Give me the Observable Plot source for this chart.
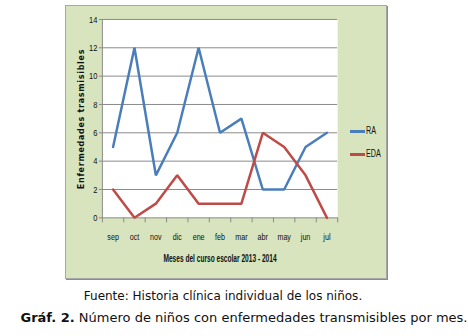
<!DOCTYPE html>
<html><head><meta charset="utf-8">
<script src="https://cdn.jsdelivr.net/npm/d3@7"></script>
<script src="https://cdn.jsdelivr.net/npm/@observablehq/plot@0.6"></script>
<style>
body{margin:0;background:#fff;width:468px;height:336px;position:relative;overflow:hidden;font-family:"DejaVu Sans",Verdana,sans-serif;}
#panel{position:absolute;left:65px;top:5px;width:320px;height:272px;background:#d7e4bd;border:1px solid #a6a6a6;box-shadow:1px 1px 0 #8c8c8c;}
#chart{position:absolute;left:-1px;top:-1px;}
.leg{position:absolute;font-family:"Liberation Sans",Arial,sans-serif;font-size:10px;color:#111;white-space:nowrap;}
.leg span{display:inline-block;width:15px;height:3px;vertical-align:middle;margin-right:1px;}
.leg b{font-weight:normal;display:inline-block;transform:scaleX(0.72);transform-origin:left center;}
#ytitle{position:absolute;left:15px;top:113px;width:0;height:0;}
#ytitle div{position:absolute;left:0;top:0;transform:translate(-50%,-50%) rotate(-90deg);white-space:nowrap;font-weight:bold;font-size:8px;letter-spacing:0.7px;color:#111;}
#fuente{position:absolute;top:289px;left:0;width:446px;text-align:center;font-size:12px;color:#111;}
#graf{position:absolute;top:310px;left:0;width:488px;text-align:center;font-size:13px;color:#111;white-space:nowrap;}
</style></head>
<body>
<div id="panel"><div id="chart"></div>
<div id="ytitle"><div>Enfermedades trasmisibles</div></div>
<div class="leg" style="left:284px;top:119px"><span style="background:#4a7ebb"></span><b>RA</b></div>
<div class="leg" style="left:284px;top:142px"><span style="background:#be4b48"></span><b>EDA</b></div>
</div>
<div id="fuente">Fuente: Historia clínica individual de los niños.</div>
<div id="graf"><b>Gráf. 2.</b> Número de niños con enfermedades transmisibles por mes.</div>
<script>
const months = ["sep","oct","nov","dic","ene","feb","mar","abr","may","jun","jul"];
const ra = [5,12,3,6,12,6,7,2,2,5,6];
const eda = [2,0,1,3,1,1,1,6,5,3,0];
const yTicks = [0,2,4,6,8,10,12,14];
const xTitle = "Meses del curso escolar 2013 - 2014";
const series = [{name:"RA", values:ra, color:"#4a7ebb"},{name:"EDA", values:eda, color:"#be4b48"}];
const rows = series.flatMap(s => s.values.map((v,i)=>({serie:s.name, i, v})));
const idx = months.map((m,i)=>i);
const bounds = d3.range(-0.5, months.length, 1);

const plot = Plot.plot({
  width: 322, height: 274,
  marginLeft: 37, marginTop: 14, marginRight: 49, marginBottom: 61,
  style: {background: "transparent", fontFamily: "Liberation Sans, Arial, sans-serif", fontSize: "10px", color: "#111"},
  x: {type: "linear", domain: [-0.5, months.length - 0.5]},
  y: {domain: [0, 14]},
  color: {domain: series.map(s=>s.name), range: series.map(s=>s.color)},
  marks: [
    Plot.frame({fill: "white", stroke: null}),
    Plot.gridY(yTicks.filter(t=>t>0), {stroke: "#8a8a8a", strokeOpacity: 1, strokeWidth: 1}),
    Plot.axisY(yTicks, {tickSize: 3, stroke: "#8a8a8a", tickPadding: 2, label: null, fontSize: 10}),
    Plot.ruleX([-0.5], {stroke: "#8a8a8a"}),
    Plot.ruleY([0], {stroke: "#8a8a8a"}),
    Plot.axisX(bounds, {tickSize: 5, stroke: "#8a8a8a", tickFormat: () => "", label: null}),
    Plot.axisX(idx, {tickSize: 0, tickPadding: 15, tickFormat: i => months[i], label: null, fontSize: 10}),
    Plot.line(rows, {x: "i", y: "v", z: "serie", stroke: "serie", strokeWidth: 2.5, strokeLinejoin: "miter"}),
    Plot.text([xTitle], {frameAnchor: "bottom", dy: 44, fontWeight: "bold", fontSize: 10.5, fill: "#111"})
  ]
});
function condense(root, sel, k) {
  root.querySelectorAll(sel).forEach(el => {
    const t = el.getAttribute("transform") || "";
    const x = +(el.getAttribute("x") || 0);
    el.setAttribute("transform", `${t} translate(${x},0) scale(${k},1) translate(${-x},0)`);
  });
}
condense(plot, "g[aria-label='y-axis tick label'] text", 0.75);
condense(plot, "g[aria-label='x-axis tick label'] text", 0.72);
condense(plot, "g[aria-label='text'] text", 0.63);
document.getElementById("chart").append(plot);
</script>
</body></html>
